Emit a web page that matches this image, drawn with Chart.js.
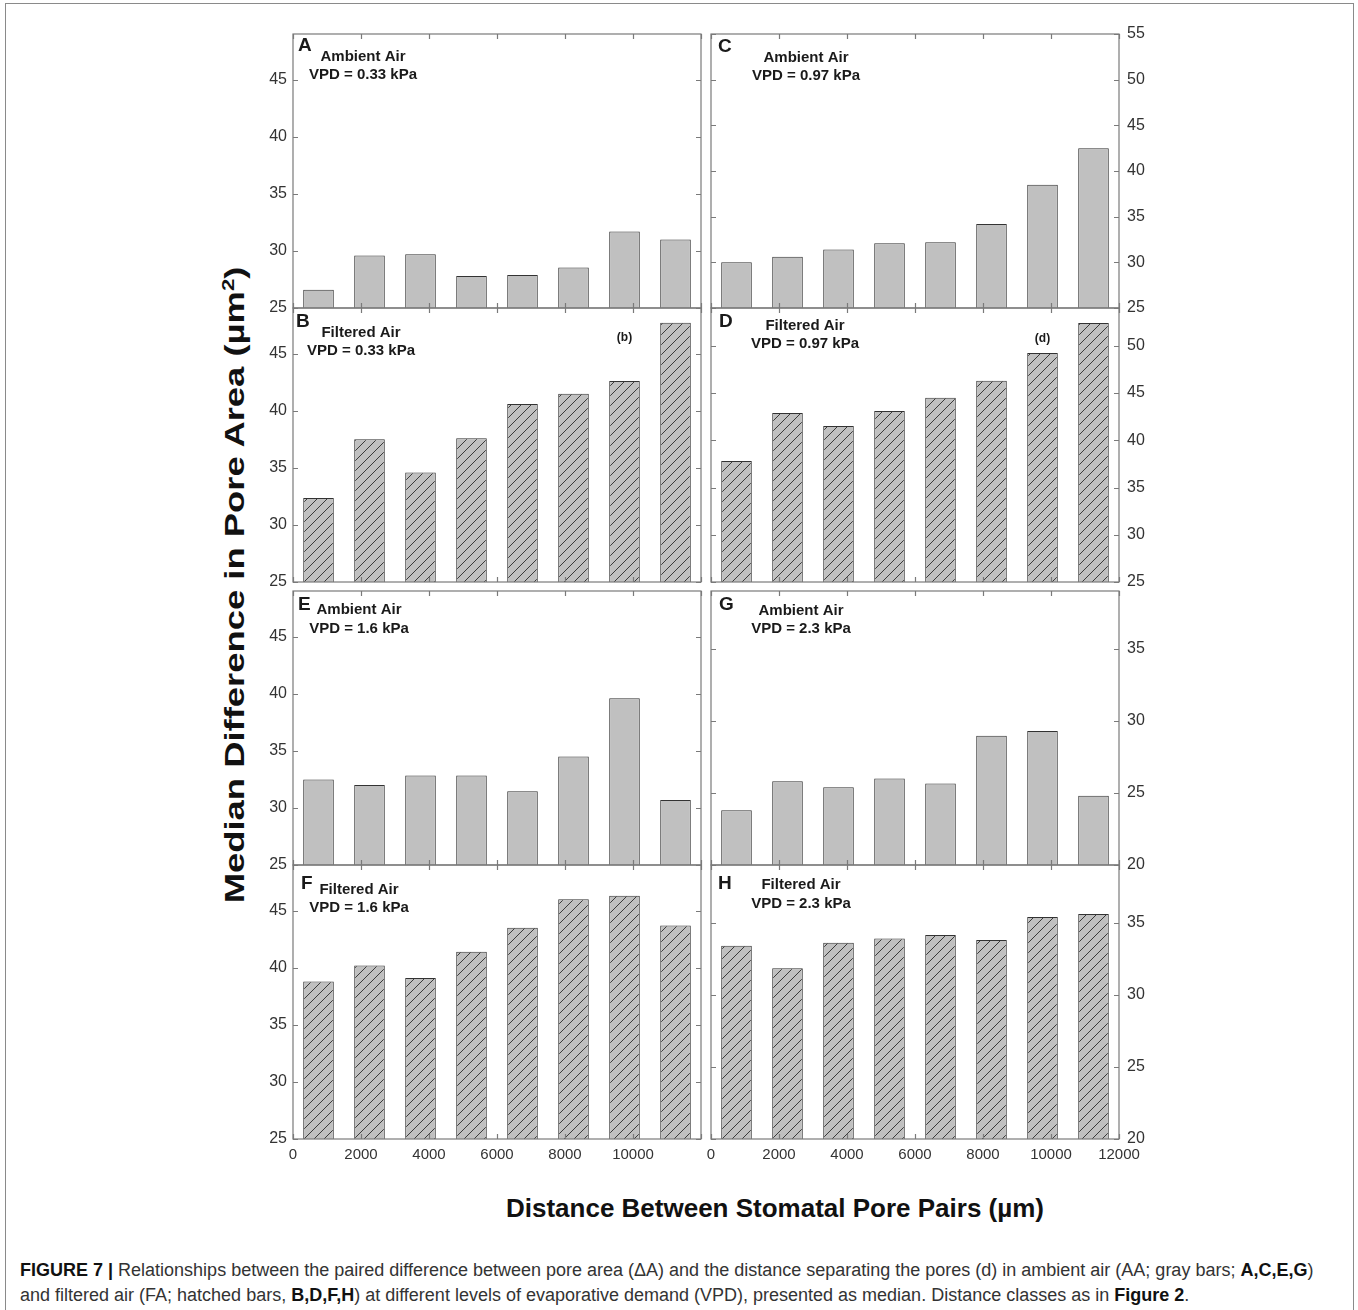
<!DOCTYPE html>
<html>
<head>
<meta charset="utf-8">
<script src="https://cdn.jsdelivr.net/npm/chart.js@4.4.1/dist/chart.umd.min.js"></script>
<style>
  body { margin: 0; background: #fff; width: 1358px; height: 1310px; overflow: hidden; position: relative; font-family: "Liberation Sans", Arial, sans-serif; }
  .frame { position: absolute; left: 5px; top: 3px; width: 1347px; height: 1330px; border: 1px solid #8a8a8a; }
  .panel { position: absolute; line-height: 0; }
  .ytitle { position: absolute; left: 235px; top: 585px; white-space: nowrap; font-weight: bold; font-size: 28px; color: #111;
    transform: translate(-50%, -50%) rotate(-90deg) scale(1.3, 1); }
  .ytitle sup { font-size: 17px; }
  .xtitle { position: absolute; left: 775px; top: 1208px; transform: translate(-50%, -50%); white-space: nowrap; font-weight: bold; font-size: 26px; color: #111; }
  .caption { position: absolute; left: 20px; top: 1258px; font-size: 18px; line-height: 25px; color: #333; white-space: nowrap; }
  .caption b { color: #111; }
</style>
</head>
<body>
<div class="frame"></div>
<div class="ytitle">Median Difference in Pore Area (µm<sup>2</sup>)</div>
<div class="xtitle">Distance Between Stomatal Pore Pairs (µm)</div>
<div class="caption"><b>FIGURE 7 |</b> Relationships between the paired difference between pore area (ΔA) and the distance separating the pores (d) in ambient air (AA; gray bars; <b>A,C,E,G</b>)<br>and filtered air (FA; hatched bars, <b>B,D,F,H</b>) at different levels of evaporative demand (VPD), presented as median. Distance classes as in <b>Figure 2</b>.</div>

<script>
// distance classes (bar centres, µm)
const distanceClasses = [750, 2250, 3750, 5250, 6750, 8250, 9750, 11250];

// median difference in pore area, one array per panel
const panelA = [26.6, 29.6, 29.7, 27.8, 27.9, 28.55, 31.7, 31.0];
const panelB = [32.35, 37.5, 34.6, 37.6, 40.6, 41.5, 42.6, 47.7];
const panelC = [30.0, 30.6, 31.4, 32.1, 32.2, 34.2, 38.5, 42.5];
const panelD = [37.8, 42.9, 41.5, 43.1, 44.5, 46.3, 49.25, 52.4];
const panelE = [32.5, 32.0, 32.85, 32.85, 31.45, 34.5, 39.6, 30.7];
const panelF = [38.8, 40.2, 39.1, 41.4, 43.5, 46.0, 46.3, 43.7];
const panelG = [23.8, 25.8, 25.4, 26.0, 25.65, 28.96, 29.3, 24.8];
const panelH = [33.4, 31.84, 33.6, 33.9, 34.15, 33.8, 35.4, 35.6];

// axis ranges
const xRange = [0, 12000];
const xStep = 2000;
const yRangeLeft = [25, 49];
const yRangeC = [25, 55];
const yRangeD = [25, 54];
const yRangeGH = [20, 39];
const yStep = 5;

Chart.defaults.font.family = '"Liberation Sans", Arial, sans-serif';
Chart.defaults.color = '#333';

function hatchPattern(ctx) {
  const n = 10;
  const t = document.createElement('canvas');
  t.width = n; t.height = n;
  const g = t.getContext('2d');
  g.fillStyle = '#c0c0c0';
  g.fillRect(0, 0, n, n);
  g.strokeStyle = '#2a2a2a';
  g.lineWidth = 0.9;
  g.beginPath();
  g.moveTo(-1, n + 1); g.lineTo(n + 1, -1);
  g.moveTo(-1, 1); g.lineTo(1, -1);
  g.moveTo(n - 1, n + 1); g.lineTo(n + 1, n - 1);
  g.stroke();
  return ctx.createPattern(t, 'repeat');
}

// frame, inward ticks and panel texts
const panelDeco = {
  id: 'panelDeco',
  afterDatasetsDraw(chart, args, o) {
    const ctx = chart.ctx;
    const a = chart.chartArea;
    const xs = chart.scales.x, ys = chart.scales.y;
    ctx.save();
    ctx.strokeStyle = '#7a7a7a';
    ctx.lineWidth = 1.2;
    ctx.strokeRect(a.left, a.top, a.right - a.left, a.bottom - a.top);
    ctx.beginPath();
    ys.ticks.forEach(t => {
      const y = Math.round(ys.getPixelForValue(t.value)) + 0.5;
      ctx.moveTo(a.left, y); ctx.lineTo(a.left + 5, y);
      ctx.moveTo(a.right, y); ctx.lineTo(a.right - 5, y);
    });
    xs.ticks.forEach(t => {
      const x = Math.round(xs.getPixelForValue(t.value)) + 0.5;
      ctx.moveTo(x, a.top); ctx.lineTo(x, a.top + 5);
      ctx.moveTo(x, a.bottom); ctx.lineTo(x, a.bottom - 5);
    });
    ctx.stroke();

    ctx.fillStyle = '#1a1a1a';
    ctx.textBaseline = 'middle';
    ctx.textAlign = 'left';
    ctx.font = 'bold 19px "Liberation Sans", Arial, sans-serif';
    ctx.fillText(o.letter, a.left + o.lx, a.top + o.ly);
    ctx.textAlign = 'center';
    ctx.font = 'bold 15px "Liberation Sans", Arial, sans-serif';
    ctx.fillText(o.air, a.left + o.tx, a.top + o.ty1);
    ctx.fillText(o.vpd, a.left + o.tx, a.top + o.ty2);
    if (o.note) {
      ctx.font = 'bold 12px "Liberation Sans", Arial, sans-serif';
      ctx.fillText(o.note, xs.getPixelForValue(distanceClasses[6]), a.top + o.ny);
    }
    ctx.restore();
  }
};

const colLeft = { plotX: 293, side: 'left' };
const colRight = { plotX: 711, side: 'right' };
const rowTops = [34, 308, 591, 865];
const plotW = 408, plotH = 274;
const axisW = 50;
const sidePad = 20;

function makePanel(values, col, row, yRange, hatched, deco) {
  const bottomRow = row === 3;
  const padTop = 25;
  const padBottom = bottomRow ? 2 : 25;
  const xAxisH = bottomRow ? 30 : 0;
  const left = col.side === 'left' ? col.plotX - axisW : col.plotX - sidePad;
  const w = axisW + plotW + sidePad;
  const h = padTop + plotH + xAxisH + padBottom;

  const div = document.createElement('div');
  div.className = 'panel';
  div.style.left = left + 'px';
  div.style.top = (rowTops[row] - padTop) + 'px';
  const cv = document.createElement('canvas');
  cv.width = w; cv.height = h;
  div.appendChild(cv);
  document.body.appendChild(div);
  const ctx = cv.getContext('2d');

  new Chart(ctx, {
    type: 'bar',
    data: {
      datasets: [{
        data: distanceClasses.map((d, i) => ({ x: d, y: values[i] })),
        backgroundColor: hatched ? hatchPattern(ctx) : '#c0c0c0',
        borderColor: '#333',
        borderWidth: 1,
        categoryPercentage: 1,
        barPercentage: 0.6
      }]
    },
    options: {
      responsive: false,
      animation: false,
      layout: { padding: { top: padTop, bottom: padBottom,
        left: col.side === 'left' ? 0 : sidePad, right: col.side === 'left' ? sidePad : 0 } },
      plugins: { legend: { display: false }, tooltip: { enabled: false }, panelDeco: deco },
      scales: {
        x: {
          type: 'linear',
          min: xRange[0], max: xRange[1],
          offset: false,
          grid: { display: false, drawTicks: false, offset: false },
          border: { display: false },
          ticks: {
            display: bottomRow,
            stepSize: xStep,
            padding: 7,
            font: { size: 15 },
            callback: v => (col.side === 'left' && v === xRange[1]) ? '' : String(v)
          },
          afterFit: s => { s.height = xAxisH; }
        },
        y: {
          position: col.side,
          min: yRange[0], max: yRange[1],
          grid: { display: false, drawTicks: false },
          border: { display: false },
          ticks: { stepSize: yStep, includeBounds: false, padding: col.side === 'left' ? 6 : 8, font: { size: 16 } },
          afterFit: s => { s.width = axisW; }
        }
      }
    },
    plugins: [panelDeco]
  });
}

makePanel(panelA, colLeft, 0, yRangeLeft, false,
  { letter: 'A', lx: 5, ly: 12, air: 'Ambient Air', vpd: 'VPD = 0.33 kPa', tx: 70, ty1: 23, ty2: 41 });
makePanel(panelB, colLeft, 1, yRangeLeft, true,
  { letter: 'B', lx: 3, ly: 13.5, air: 'Filtered Air', vpd: 'VPD = 0.33 kPa', tx: 68, ty1: 25, ty2: 43, note: '(b)', ny: 30 });
makePanel(panelE, colLeft, 2, yRangeLeft, false,
  { letter: 'E', lx: 5, ly: 14, air: 'Ambient Air', vpd: 'VPD = 1.6 kPa', tx: 66, ty1: 18.5, ty2: 37.5 });
makePanel(panelF, colLeft, 3, yRangeLeft, true,
  { letter: 'F', lx: 8, ly: 18.5, air: 'Filtered Air', vpd: 'VPD = 1.6 kPa', tx: 66, ty1: 24.5, ty2: 43 });

makePanel(panelC, colRight, 0, yRangeC, false,
  { letter: 'C', lx: 7, ly: 12.5, air: 'Ambient Air', vpd: 'VPD = 0.97 kPa', tx: 95, ty1: 24, ty2: 42 });
makePanel(panelD, colRight, 1, yRangeD, true,
  { letter: 'D', lx: 8, ly: 13.5, air: 'Filtered Air', vpd: 'VPD = 0.97 kPa', tx: 94, ty1: 18, ty2: 36, note: '(d)', ny: 31 });
makePanel(panelG, colRight, 2, yRangeGH, false,
  { letter: 'G', lx: 8, ly: 14, air: 'Ambient Air', vpd: 'VPD = 2.3 kPa', tx: 90, ty1: 20, ty2: 37.5 });
makePanel(panelH, colRight, 3, yRangeGH, true,
  { letter: 'H', lx: 7, ly: 18.5, air: 'Filtered Air', vpd: 'VPD = 2.3 kPa', tx: 90, ty1: 20, ty2: 38.5 });
</script>
</body>
</html>
